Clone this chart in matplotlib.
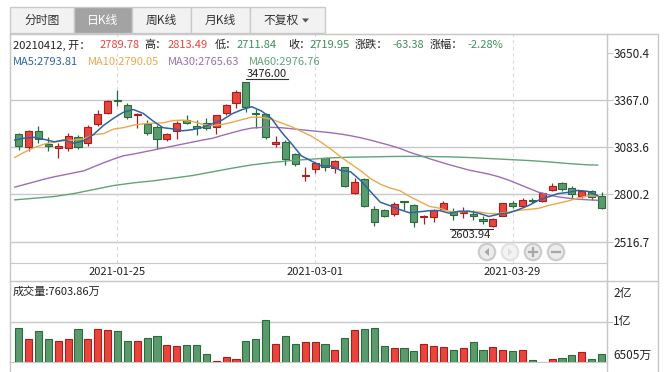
import numpy as np
import matplotlib
matplotlib.use("Agg")
import matplotlib.pyplot as plt
from matplotlib.patches import Rectangle, Circle, Polygon

plt.rcParams['font.family'] = ['Noto Sans CJK SC', 'DejaVu Sans']

# ---- 数据 ----
dates = ['2021-01-25', '2021-03-01', '2021-03-29']
date_idx = [10, 30, 50]

opens = [3160.7, 3082.6, 3178.7, 3102.6, 3076.6, 3080.6, 3142.7, 3106.6, 3220.8, 3286.9,
         3366.0, 3335.0, 3274.9, 3222.8, 3202.8, 3134.6, 3180.7, 3244.8, 3210.8, 3226.8,
         3202.8, 3290.9, 3351.0, 3473.2, 3290.0, 3280.9, 3100.6, 3112.6, 3040.5, 2908.3,
         2952.4, 3016.5, 2956.4, 2962.4, 2806.2, 2892.3, 2716.0, 2706.0, 2682.0, 2764.1,
         2736.1, 2664.0, 2668.0, 2714.0, 2696.0, 2690.0, 2684.0, 2652.0, 2612.0, 2672.0,
         2748.0, 2730.0, 2770.0, 2762.0, 2828.0, 2868.0, 2840.0, 2794.0, 2822.0, 2789.78]
closes = [3092.6, 3178.7, 3130.6, 3088.6, 3090.6, 3148.7, 3082.6, 3202.8, 3282.9, 3359.0,
          3360.0, 3262.8, 3284.9, 3166.7, 3130.6, 3160.7, 3226.8, 3226.8, 3200.8, 3196.7,
          3274.9, 3337.0, 3413.0, 3322.9, 3285.0, 3142.7, 3112.6, 3010.5, 2980.4, 2916.3,
          2990.4, 2966.4, 3000.5, 2850.2, 2874.3, 2732.0, 2637.9, 2674.0, 2746.1, 2756.1,
          2635.9, 2672.0, 2706.0, 2748.0, 2678.0, 2698.0, 2670.0, 2642.0, 2654.0, 2748.0,
          2734.0, 2770.0, 2762.0, 2812.0, 2850.0, 2834.0, 2806.0, 2822.0, 2783.33, 2719.95]
highs = [3167.0, 3186.7, 3210.8, 3142.7, 3106.6, 3168.7, 3156.7, 3216.8, 3306.9, 3367.0,
         3427.0, 3347.0, 3286.9, 3244.8, 3216.8, 3170.7, 3242.8, 3276.9, 3246.8, 3256.8,
         3276.9, 3343.0, 3427.0, 3476.0, 3310.9, 3286.9, 3150.7, 3126.6, 3046.5, 2962.4,
         2996.4, 3020.5, 3006.5, 2966.4, 2896.3, 2896.3, 2730.0, 2716.0, 2756.1, 2764.1,
         2742.0, 2680.0, 2712.0, 2760.0, 2722.0, 2726.0, 2706.0, 2670.0, 2662.0, 2752.0,
         2762.0, 2778.0, 2778.0, 2818.0, 2872.0, 2876.0, 2850.0, 2830.0, 2830.0, 2813.49]
lows = [3066.5, 3060.5, 3106.6, 3060.5, 3020.5, 3060.5, 3070.6, 3092.6, 3210.8, 3280.9,
        3333.0, 3250.8, 3196.7, 3158.7, 3072.6, 3122.6, 3130.6, 3220.8, 3156.7, 3184.7,
        3162.7, 3276.9, 3317.0, 3296.9, 3196.7, 3134.6, 3086.6, 2974.4, 2970.4, 2882.3,
        2930.3, 2942.4, 2930.3, 2842.2, 2800.2, 2726.0, 2612.0, 2666.0, 2672.0, 2706.0,
        2608.0, 2626.0, 2636.0, 2706.0, 2650.0, 2662.0, 2650.0, 2622.0, 2603.94, 2670.0,
        2722.0, 2726.0, 2750.0, 2758.0, 2820.0, 2824.0, 2772.0, 2782.0, 2770.0, 2711.84]
# 成交量（万）
volume = [9505, 8544, 9243, 8544, 8369, 8544, 9418, 8544, 9418, 9330,
          9243, 8369, 8369, 8631, 8806, 8020, 7932, 8020, 8020, 7233,
          6622, 6971, 6796, 8369, 8544, 10204, 8107, 8806, 8107, 8282,
          8282, 8107, 7583, 8631, 9330, 9418, 9505, 7932, 7757, 7757,
          7495, 8107, 7932, 7845, 7583, 7757, 8282, 7583, 7845, 7583,
          7495, 7583, 6709, 6530, 6796, 6884, 7146, 7408, 6796, 7233]

ma5 = [3126.6, 3138.6, 3142.7, 3130.6, 3116.2, 3127.4, 3108.2, 3122.7, 3161.5, 3215.2,
       3257.5, 3293.5, 3309.9, 3286.7, 3241.0, 3201.1, 3193.9, 3182.3, 3189.1, 3202.4,
       3225.2, 3247.2, 3284.5, 3308.9, 3326.6, 3300.1, 3255.2, 3174.7, 3106.2, 3032.5,
       3002.0, 2972.8, 2970.8, 2944.8, 2936.4, 2884.7, 2819.0, 2753.7, 2732.9, 2709.2,
       2690.0, 2696.8, 2703.2, 2703.6, 2688.0, 2700.4, 2700.0, 2687.2, 2668.4, 2682.4,
       2689.6, 2709.6, 2733.6, 2765.2, 2785.6, 2805.6, 2812.8, 2824.8, 2819.1, 2793.81]
ma10 = [3022.5, 3054.5, 3082.6, 3102.6, 3114.6, 3122.6, 3126.6, 3134.6, 3158.7, 3165.7,
        3192.5, 3200.9, 3216.3, 3224.1, 3228.1, 3229.3, 3243.7, 3246.1, 3237.9, 3221.7,
        3213.2, 3220.6, 3233.4, 3249.0, 3264.5, 3262.7, 3251.2, 3229.6, 3207.6, 3179.5,
        3151.1, 3114.0, 3072.8, 3025.5, 2984.4, 2943.4, 2895.9, 2862.2, 2838.8, 2822.8,
        2787.3, 2757.9, 2728.5, 2718.2, 2698.6, 2695.2, 2698.4, 2695.2, 2686.0, 2685.2,
        2695.0, 2704.8, 2710.4, 2716.8, 2734.0, 2747.6, 2761.2, 2779.2, 2792.1, 2790.05]
ma30 = [2844.2, 2860.2, 2876.2, 2892.3, 2906.3, 2918.3, 2930.3, 2942.4, 2966.4, 2990.4,
        3012.5, 3032.5, 3042.5, 3054.5, 3066.5, 3078.6, 3090.6, 3102.6, 3114.6, 3126.6,
        3137.0, 3154.7, 3170.7, 3186.7, 3198.7, 3202.8, 3202.8, 3200.8, 3194.7, 3188.7,
        3182.7, 3176.7, 3170.7, 3162.7, 3152.7, 3140.7, 3126.6, 3110.6, 3094.6, 3076.6,
        3053.0, 3034.5, 3014.5, 2996.5, 2978.5, 2962.4, 2946.4, 2934.4, 2922.4, 2906.4,
        2886.3, 2862.3, 2838.3, 2814.2, 2798.2, 2786.2, 2778.2, 2772.2, 2768.2, 2765.63]
ma60_idx = [0, 2, 4, 6, 8, 10, 12, 14, 16, 18, 20, 22, 24, 26, 28, 30, 32, 34, 36, 38,
            40, 42, 44, 46, 48, 50, 52, 54, 56, 58, 59]
ma60 = [2768, 2778, 2788, 2806, 2830, 2854, 2870, 2882, 2898, 2914, 2936, 2958, 2978,
        2992, 3004, 3012, 3020, 3024, 3026, 3028, 3029, 3028, 3026, 3022, 3016, 3010,
        3004, 2996, 2986, 2978, 2976.76]

price_ticks = [2516.7, 2800.2, 3083.6, 3367.0, 3650.4]

# ---- 颜色 ----
RED, RED_E = '#e8453c', '#a32020'
GRN, GRN_E = '#5a9a6d', '#2b6a3a'
C_MA5, C_MA10, C_MA30, C_MA60 = '#2f64a3', '#e9a94b', '#9b6fb5', '#62a27a'
LINE = '#c8c8c8'
TXT = '#222222'

W, H = 667, 372
fig = plt.figure(figsize=(W / 100, H / 100), dpi=100)


def box(x0, y0, x1, y1):
    # 像素坐标 -> figure 坐标
    return [x0 / W, 1 - y1 / H, (x1 - x0) / W, (y1 - y0) / H]


ax = fig.add_axes(box(10, 34, 607, 263))
axv = fig.add_axes(box(10, 281, 607, 362))

o = np.array(opens)
c = np.array(closes)
x = np.arange(len(c))
up = c >= o
face = np.where(up, RED, GRN)
edge = np.where(up, RED_E, GRN_E)

# K线
ax.vlines(x, lows, highs, colors=edge, lw=0.9, zorder=3)
ax.bar(x, np.maximum(np.abs(c - o), 1.0), bottom=np.minimum(o, c), width=0.72,
       color=face, edgecolor=edge, linewidth=0.8, zorder=4)

# 均线（原图比K线偏左约半根）
xs = x - 0.4
ax.plot(xs, ma30, color=C_MA30, lw=1.0, zorder=5)
ax.plot(np.array(ma60_idx) - 0.4, ma60, color=C_MA60, lw=1.0, zorder=5)
ax.plot(xs, ma10, color=C_MA10, lw=1.0, zorder=5)
ax.plot(xs, ma5, color=C_MA5, lw=1.1, zorder=6)

xlim = (-0.88, 59.55)
ax.set_xlim(xlim)
ax.set_ylim(2389.3, 3762.9)
for t in price_ticks[:-1]:
    ax.axhline(t, color=LINE, lw=1.0, zorder=1)
for i in date_idx:
    ax.axvline(i, color='#d9d9d9', lw=0.8, ls=(0, (3, 3)), zorder=1)
ax.yaxis.tick_right()
ax.set_yticks(price_ticks)
ax.set_yticklabels([f'{t:.1f}' for t in price_ticks])
ax.tick_params(axis='y', length=4, width=0.8, color=LINE, labelsize=8.5,
               labelcolor=TXT, pad=1)
ax.set_xticks(date_idx)
ax.set_xticklabels(dates)
ax.tick_params(axis='x', length=0, labelsize=8, labelcolor=TXT, pad=3)
for s in ax.spines.values():
    s.set_color(LINE)

# 最高 / 最低标注
hi = int(np.argmax(highs))
lo = int(np.argmin(lows))
ax.plot([hi, hi + 4.25], [highs[hi] + 15, highs[hi] + 15], color='#333333', lw=0.8)
ax.text(hi + 2.12, highs[hi] + 17, f'{highs[hi]:.2f}', ha='center', va='bottom',
        fontsize=8, color='#222222')
ax.plot([lo - 4.35, lo], [lows[lo] - 12, lows[lo] - 12], color='#333333', lw=0.8)
ax.text(lo - 2.2, lows[lo] - 14, f'{lows[lo]:.2f}', ha='center', va='top',
        fontsize=8, color='#222222')

# 成交量
axv.bar(x, volume, width=0.72, color=face, edgecolor=edge, linewidth=0.8, zorder=3)
axv.set_xlim(xlim)
axv.set_ylim(6505, 13582)
axv.axhline(10000, color=LINE, lw=1.0, zorder=1)
axv.set_xticks([])
axv.yaxis.tick_right()
axv.set_yticks([10000])
axv.set_yticklabels([''])
axv.tick_params(axis='y', length=4, width=0.8, color=LINE)
for s in axv.spines.values():
    s.set_color(LINE)

# ---- 外框、标签页、文字（像素坐标） ----
bg = fig.add_axes([0, 0, 1, 1], zorder=10)
bg.set_xlim(0, W)
bg.set_ylim(H, 0)
bg.axis('off')
bg.patch.set_alpha(0)

for seg in [([10, 658], [34, 34]), ([10, 658], [281, 281]), ([10, 10], [34, 372]),
            ([607, 607], [34, 372]), ([658, 658], [34, 372])]:
    bg.plot(seg[0], seg[1], color=LINE, lw=1.0)

tabs = ['分时图', '日K线', '周K线', '月K线', '不复权']
tab_x = [10, 74, 132, 191, 250, 325]
for k, name in enumerate(tabs):
    sel = k == 1
    bg.add_patch(Rectangle((tab_x[k], 7), tab_x[k + 1] - tab_x[k], 26,
                           facecolor='#a3a3a3' if sel else '#f2f2f2',
                           edgecolor='#cacaca', lw=1.0))
    cx = (tab_x[k] + tab_x[k + 1]) / 2
    if k == 4:
        cx -= 6
    bg.text(cx, 20.5, name, ha='center', va='center', fontsize=8.5,
            color='white' if sel else '#333333')
bg.add_patch(Polygon([[302, 18.5], [309, 18.5], [305.5, 22.5]], closed=True,
                     facecolor='#555555', edgecolor='none'))

row1 = [(13, '20210412, 开：', TXT), (100, '2789.78', RED), (144, '高：', TXT),
        (168, '2813.49', RED), (215, '低：', TXT), (237, '2711.84', '#3e8e5e'),
        (288, '收：', TXT), (310, '2719.95', '#3e8e5e'), (355, '涨跌：', TXT),
        (392, '-63.38', '#3e8e5e'), (430, '涨幅：', TXT), (467, '-2.28%', '#3e8e5e')]
for px, s, col in row1:
    bg.text(px, 45, s, ha='left', va='center', fontsize=8, color=col)

row2 = [(13, 'MA5:2793.81', C_MA5), (88, 'MA10:2790.05', C_MA10),
        (168, 'MA30:2765.63', C_MA30), (249, 'MA60:2976.76', C_MA60)]
for px, s, col in row2:
    bg.text(px, 62, s, ha='left', va='center', fontsize=8, color=col)

bg.text(13, 292, '成交量:7603.86万', ha='left', va='center', fontsize=8, color=TXT)
for py, s in [(293, '2亿'), (322, '1亿'), (355, '6505万')]:
    bg.text(613, py, s, ha='left', va='center', fontsize=8.5, color=TXT)

# 导航按钮
btn_x = [487, 510, 533, 556]
for k, bx in enumerate(btn_x):
    light = k == 1
    bg.add_patch(Circle((bx, 252), 8.2, facecolor='#f3f3f3' if light else '#ebebeb',
                        edgecolor='#e2e2e2' if light else '#cccccc', lw=1.6))
    sym = '#e0e0e0' if light else '#a8a8a8'
    if k == 0:
        bg.add_patch(Polygon([[489, 248], [489, 256], [484.5, 252]], closed=True,
                             facecolor=sym, edgecolor='none'))
    elif k == 1:
        bg.add_patch(Polygon([[508, 248], [508, 256], [512.5, 252]], closed=True,
                             facecolor=sym, edgecolor='none'))
    elif k == 2:
        bg.plot([bx - 4, bx + 4], [252, 252], color=sym, lw=1.6)
        bg.plot([bx, bx], [248, 256], color=sym, lw=1.6)
    else:
        bg.plot([bx - 4, bx + 4], [252, 252], color=sym, lw=1.6)

fig.savefig('out.png', dpi=100, facecolor='white')
